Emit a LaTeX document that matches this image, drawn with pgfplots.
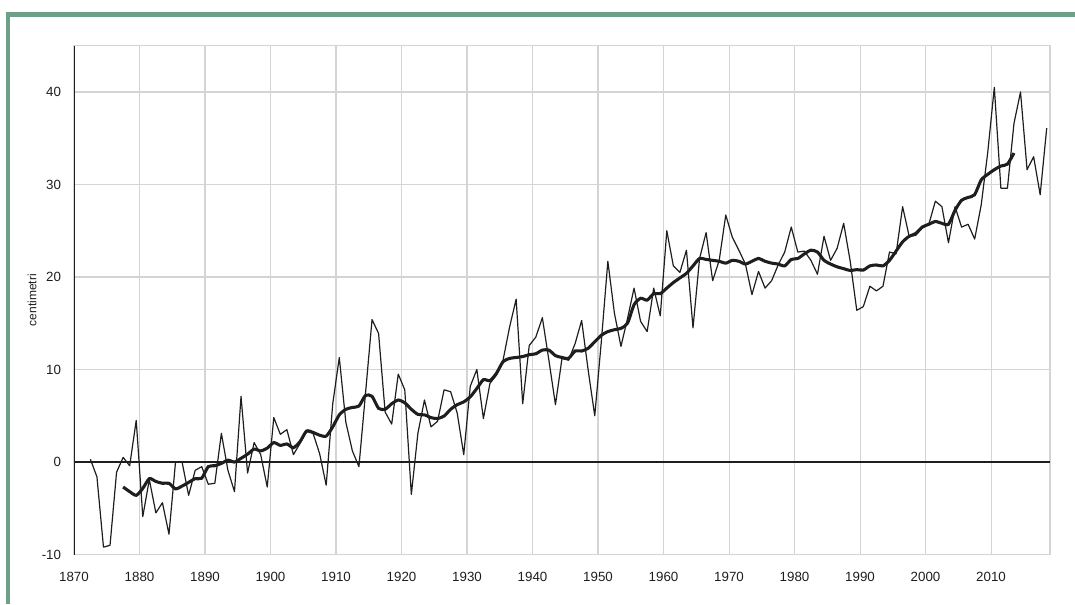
\documentclass[border=0pt]{standalone}
\usepackage{fontspec}
\setmainfont{Liberation Sans}
\usepackage{pgfplots}
\usepackage{pgfplotstable}
\pgfplotsset{compat=1.18}
\definecolor{cFrame}{HTML}{6E9F88}
\definecolor{cGrid}{HTML}{D4D4D4}
\definecolor{cInk}{HTML}{1E1E1E}

% annual values (cm)
\pgfplotstableread{
year cm
1872 0.3
1873 -1.6
1874 -9.2
1875 -9.0
1876 -1.1
1877 0.5
1878 -0.4
1879 4.5
1880 -5.9
1881 -1.9
1882 -5.5
1883 -4.4
1884 -7.8
1885 0.0
1886 0.0
1887 -3.6
1888 -0.9
1889 -0.5
1890 -2.4
1891 -2.3
1892 3.1
1893 -0.9
1894 -3.2
1895 7.1
1896 -1.2
1897 2.1
1898 0.8
1899 -2.7
1900 4.8
1901 3.0
1902 3.5
1903 0.8
1904 2.0
1905 3.3
1906 3.1
1907 0.9
1908 -2.5
1909 6.3
1910 11.3
1911 4.3
1912 1.2
1913 -0.5
1914 7.4
1915 15.4
1916 13.9
1917 5.4
1918 4.1
1919 9.5
1920 7.8
1921 -3.5
1922 3.1
1923 6.7
1924 3.8
1925 4.4
1926 7.8
1927 7.6
1928 5.3
1929 0.8
1930 8.2
1931 10.0
1932 4.7
1933 8.5
1934 9.4
1935 11.0
1936 14.6
1937 17.6
1938 6.3
1939 12.6
1940 13.5
1941 15.6
1942 11.0
1943 6.2
1944 11.2
1945 11.0
1946 12.8
1947 15.3
1948 9.9
1949 5.0
1950 13.0
1951 21.7
1952 16.1
1953 12.5
1954 15.5
1955 18.8
1956 15.2
1957 14.1
1958 18.8
1959 15.8
1960 25.0
1961 21.2
1962 20.5
1963 22.9
1964 14.5
1965 22.0
1966 24.8
1967 19.6
1968 21.8
1969 26.7
1970 24.3
1971 22.9
1972 21.4
1973 18.1
1974 20.6
1975 18.8
1976 19.6
1977 21.3
1978 22.7
1979 25.4
1980 22.7
1981 22.8
1982 21.8
1983 20.3
1984 24.4
1985 21.8
1986 23.1
1987 25.8
1988 21.7
1989 16.4
1990 16.8
1991 19.0
1992 18.5
1993 19.0
1994 22.7
1995 22.5
1996 27.6
1997 24.4
1998 24.5
1999 25.3
2000 25.7
2001 28.2
2002 27.6
2003 23.7
2004 27.6
2005 25.4
2006 25.7
2007 24.1
2008 27.8
2009 33.5
2010 40.5
2011 29.6
2012 29.6
2013 36.6
2014 40.0
2015 31.6
2016 33.0
2017 28.9
2018 36.1
}\rawdata

% smoothed series
\pgfplotstableread{
year cm
1877 -2.7
1878 -3.2
1879 -3.6
1880 -2.85
1881 -1.8
1882 -2.1
1883 -2.3
1884 -2.3
1885 -2.9
1886 -2.6
1887 -2.2
1888 -1.8
1889 -1.75
1890 -0.5
1891 -0.4
1892 -0.15
1893 0.2
1894 0.0
1895 0.4
1896 0.85
1897 1.4
1898 1.2
1899 1.5
1900 2.1
1901 1.8
1902 1.95
1903 1.55
1904 2.2
1905 3.35
1906 3.2
1907 2.9
1908 2.8
1909 3.8
1910 5.1
1911 5.7
1912 5.9
1913 6.05
1914 7.2
1915 7.1
1916 5.8
1917 5.7
1918 6.3
1919 6.7
1920 6.4
1921 5.7
1922 5.15
1923 5.1
1924 4.8
1925 4.7
1926 4.97
1927 5.7
1928 6.2
1929 6.5
1930 7.05
1931 7.95
1932 8.9
1933 8.8
1934 9.6
1935 10.85
1936 11.2
1937 11.3
1938 11.4
1939 11.6
1940 11.7
1941 12.1
1942 12.1
1943 11.5
1944 11.3
1945 11.2
1946 12.0
1947 12.0
1948 12.3
1949 13.0
1950 13.7
1951 14.1
1952 14.3
1953 14.45
1954 15.0
1955 17.0
1956 17.7
1957 17.5
1958 18.2
1959 18.2
1960 18.8
1961 19.4
1962 19.9
1963 20.4
1964 21.2
1965 22.0
1966 21.9
1967 21.8
1968 21.7
1969 21.5
1970 21.8
1971 21.7
1972 21.4
1973 21.7
1974 22.0
1975 21.7
1976 21.5
1977 21.4
1978 21.2
1979 21.9
1980 22.0
1981 22.5
1982 22.9
1983 22.7
1984 21.8
1985 21.4
1986 21.1
1987 20.9
1988 20.7
1989 20.8
1990 20.75
1991 21.2
1992 21.3
1993 21.2
1994 21.8
1995 22.8
1996 23.8
1997 24.4
1998 24.7
1999 25.4
2000 25.7
2001 26.0
2002 25.8
2003 25.7
2004 27.2
2005 28.3
2006 28.6
2007 28.9
2008 30.5
2009 31.1
2010 31.6
2011 32.0
2012 32.2
2013 33.4
}\smoothdata

\begin{document}
\begin{tikzpicture}[x=0.75pt,y=0.75pt]
% page in px units, origin bottom left
\path[use as bounding box] (0,0) rectangle (1075,604);
\fill[cFrame] (6,0) rectangle (10,592);
\fill[cFrame] (6,587) rectangle (1075,592);
\begin{axis}[
  at={(55.5pt,37.1pt)}, anchor=south west,
  scale only axis, width=732pt, height=381.6pt,
  xmin=1870, xmax=2019, ymin=-10, ymax=45,
  xtick={1870,1880,...,2010}, ytick={-10,0,...,40},
  grid=major, grid style={cGrid, line width=0.8pt},
  axis line style={cGrid, line width=0.8pt},
  major tick length=0pt,
  ticklabel style={font=\fontsize{10}{12}\selectfont, text=cInk, inner sep=0pt},
  xticklabel style={anchor=north, yshift=-13pt},
  yticklabel style={anchor=east, xshift=-9.5pt},
  /pgf/number format/1000 sep={},
  /pgf/number format/assume math mode=true,
  ylabel={centimetri},
  ylabel style={font=\fontsize{9}{11}\selectfont, text=cInk, at={(axis description cs:-0.043,0.5)}, anchor=center},
]
\draw[cInk, line width=0.9pt] (rel axis cs:0,0) -- (rel axis cs:0,1);
\draw[cInk, line width=0.8pt] (axis cs:1870,0) -- (axis cs:2019,0);
\addplot[cInk, line width=0.9pt, line join=round] table[x expr=\thisrow{year}+0.5, y=cm] {\rawdata};
\addplot[cInk, line width=2.3pt, smooth, tension=0.4] table[x expr=\thisrow{year}+0.5, y=cm] {\smoothdata};
\end{axis}
\end{tikzpicture}
\end{document}
